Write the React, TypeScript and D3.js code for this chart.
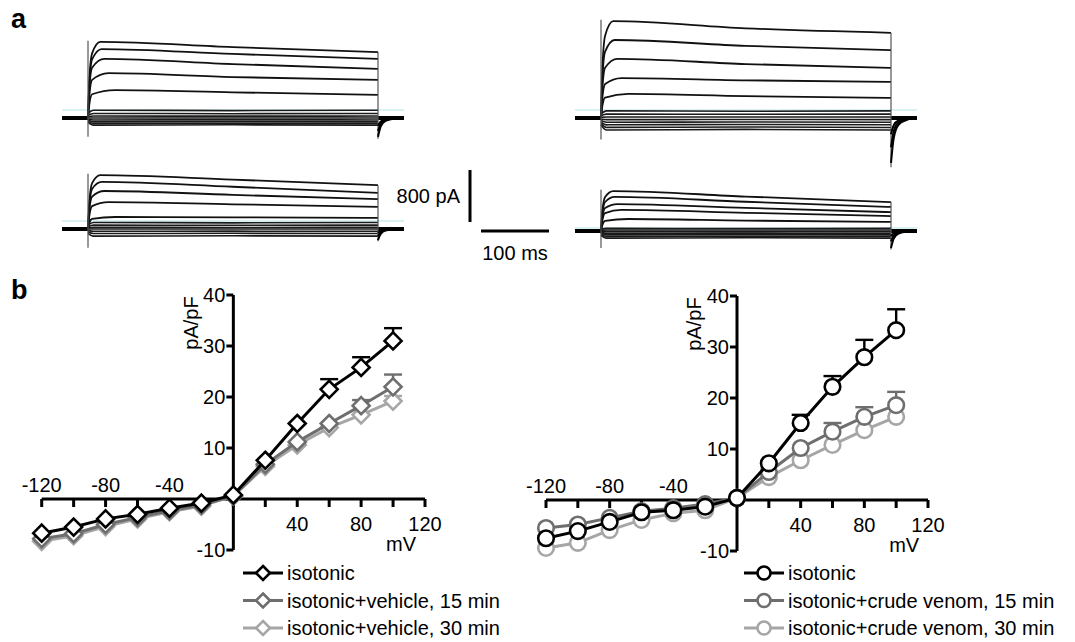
import React from "react";
import * as d3 from "d3";

// ---- panel b data (I-V curves, pA/pF) ----
const mV = [-120, -100, -80, -60, -40, -20, 0, 20, 40, 60, 80, 100];

const vehIso = [-6.7, -5.5, -3.9, -3.0, -1.8, -0.8, 0.8, 7.6, 14.8, 21.5, 25.8, 31.0];
const vehIsoErr = [0.4, 0.4, 0.4, 0.3, 0.3, 0.2, 0.2, 0.5, 0.9, 2.0, 2.0, 2.5];
const veh15 = [-7.8, -6.8, -5.0, -3.6, -2.3, -1.2, 0.6, 6.8, 11.2, 14.8, 18.3, 22.0];
const veh15Err = [0.4, 0.4, 0.3, 0.3, 0.3, 0.2, 0.2, 0.4, 0.6, 0.9, 1.1, 2.4];
const veh30 = [-8.3, -7.2, -5.4, -3.9, -2.5, -1.4, 0.6, 6.4, 10.6, 14.0, 16.5, 19.2];
const veh30Err = [0.3, 0.3, 0.3, 0.2, 0.2, 0.2, 0.2, 0.3, 0.5, 0.6, 0.8, 1.0];

const venIso = [-7.5, -6.1, -4.3, -2.4, -2.0, -1.3, 0.4, 7.2, 15.1, 22.2, 28.0, 33.3];
const venIsoErr = [0.4, 0.4, 0.3, 0.3, 0.3, 0.2, 0.2, 0.6, 1.6, 2.1, 3.4, 4.1];
const ven15 = [-5.5, -4.8, -3.5, -2.2, -1.6, -0.8, 0.4, 5.5, 10.2, 13.4, 16.3, 18.6];
const ven15Err = [0.4, 0.4, 0.3, 0.3, 0.2, 0.2, 0.2, 0.4, 0.6, 1.7, 1.9, 2.6];
const ven30 = [-9.4, -8.4, -5.9, -3.9, -2.6, -2.0, 0.4, 4.5, 7.8, 10.8, 13.7, 16.3];
const ven30Err = [0.3, 0.3, 0.3, 0.2, 0.2, 0.2, 0.2, 0.3, 0.4, 0.5, 0.6, 0.8];

const xTicks = [-120, -100, -80, -60, -40, -20, 0, 20, 40, 60, 80, 100, 120];
const xLabelsNeg = [-120, -80, -40];
const xLabelsPos = [40, 80, 120];
const yTicks = [-10, 0, 10, 20, 30, 40];
const yLabels = [-10, 10, 20, 30, 40];

const vehNames = ["isotonic", "isotonic+vehicle, 15 min", "isotonic+vehicle, 30 min"];
const venNames = ["isotonic", "isotonic+crude venom, 15 min", "isotonic+crude venom, 30 min"];
const seriesColors = ["#000000", "#6e6e6e", "#a6a6a6"];

// ---- panel a data (current traces, pA; step 0..425 ms) ----
const tlPeak = [1170, 1060, 910, 690, 430];
const tlMid = [1090, 985, 830, 630, 395];
const tlEnd = [1015, 910, 755, 585, 355];
const tlSub = [120, 70, 30, 0, -30, -60, -85, -110];
const tlTail = [-290, -200, -120];

const trPeak = [1490, 1200, 910, 615, 370];
const trMid = [1380, 1110, 830, 580, 335];
const trEnd = [1310, 1045, 770, 555, 310];
const trSub = [110, 60, 15, -25, -65, -105, -145, -185];
const trTail = [-690, -450, -250];

const blPeak = [830, 725, 585, 415, 185];
const blMid = [760, 650, 525, 380, 180];
const blEnd = [675, 555, 460, 340, 170];
const blSub = [100, 60, 25, 0, -35, -70, -110];
const blTail = [-170, -110, -60];

const brPeak = [615, 525, 415, 325, 185];
const brMid = [530, 450, 355, 280, 160];
const brEnd = [445, 370, 290, 230, 140];
const brSub = [40, 15, -10, -35, -60, -85, -110];
const brTail = [-260, -160, -80];

const riseMs = [18, 20, 24, 30, 40];

const FONT = "Arial, 'Liberation Sans', Helvetica, sans-serif";

type Group = {
  left: number;
  base: number;
  peak: number[];
  mid: number[];
  end: number[];
  sub: number[];
  tail: number[];
  cyan: number;
  onsetLow: number;
};

const groups: Group[] = [
  { left: 62, base: 118, peak: tlPeak, mid: tlMid, end: tlEnd, sub: tlSub, tail: tlTail, cyan: 123, onsetLow: -290 },
  { left: 575, base: 118, peak: trPeak, mid: trMid, end: trEnd, sub: trSub, tail: trTail, cyan: 123, onsetLow: -330 },
  { left: 62, base: 229, peak: blPeak, mid: blMid, end: blEnd, sub: blSub, tail: blTail, cyan: 123, onsetLow: -290 },
  { left: 575, base: 231, peak: brPeak, mid: brMid, end: brEnd, sub: brSub, tail: brTail, cyan: 46, onsetLow: -260 },
];

function Traces({ g }: { g: Group }) {
  const x = d3.scaleLinear().domain([-38, 0, 425, 463]).range([g.left, g.left + 26, g.left + 316, g.left + 342]);
  const y = d3.scaleLinear().domain([0, 800]).range([g.base, g.base - 52]);
  const line = d3
    .line<[number, number]>()
    .x((d) => x(d[0]))
    .y((d) => y(d[1]))
    .curve(d3.curveMonotoneX);
  const top = g.peak[0];
  return (
    <g fill="none" stroke="#111">
      <line x1={x(-38)} x2={x(463)} y1={y(g.cyan)} y2={y(g.cyan)} stroke="#b5e3ea" strokeWidth={1.2} />
      {g.sub.map((v, i) => (
        <path
          key={"s" + i}
          d={line([[0, v * 0.6], [8, v], [212, v * 0.95], [425, v]])!}
          strokeWidth={1.6}
          stroke="#1a1a1a"
        />
      ))}
      {g.peak.map((p, i) => (
        <path
          key={"t" + i}
          d={line([[0, 0], [2, p * 0.5], [6, p * 0.85], [riseMs[i], p], [212, g.mid[i]], [425, g.end[i]]])!}
          strokeWidth={1.8}
        />
      ))}
      <line x1={x(-38)} x2={x(0)} y1={y(0)} y2={y(0)} strokeWidth={4} stroke="#000" />
      <line x1={x(425)} x2={x(463)} y1={y(0)} y2={y(0)} strokeWidth={4} stroke="#000" />
      <line x1={x(0)} x2={x(0)} y1={y(top + 20)} y2={y(g.onsetLow)} strokeWidth={1.2} stroke="#555" />
      <line x1={x(425)} x2={x(425)} y1={y(g.end[0])} y2={y(g.tail[0] * 1.1)} strokeWidth={1.2} stroke="#555" />
      {g.tail.map((t, i) => (
        <path key={"k" + i} d={line([[425, t], [429, t * 0.45], [436, t * 0.15], [450, t * 0.03], [463, 0]])!} strokeWidth={2} stroke="#000" />
      ))}
    </g>
  );
}

type Panel = {
  x0: number;
  x1: number;
  yTop: number;
  yBot: number;
  names: string[];
  values: number[][];
  errs: number[][];
  marker: "diamond" | "circle";
  legendX: number;
};

const panels: Panel[] = [
  {
    x0: 41.7, x1: 425, yTop: 295, yBot: 550, names: vehNames,
    values: [vehIso, veh15, veh30], errs: [vehIsoErr, veh15Err, veh30Err], marker: "diamond", legendX: 243,
  },
  {
    x0: 546, x1: 928, yTop: 296, yBot: 551, names: venNames,
    values: [venIso, ven15, ven30], errs: [venIsoErr, ven15Err, ven30Err], marker: "circle", legendX: 744,
  },
];

function Marker({ type, cx, cy, r, color }: { type: string; cx: number; cy: number; r: number; color: string }) {
  if (type === "circle") {
    return <circle cx={cx} cy={cy} r={r} fill="#fff" stroke={color} strokeWidth={2.6} />;
  }
  const d = `M${cx},${cy - r}L${cx + r},${cy}L${cx},${cy + r}L${cx - r},${cy}Z`;
  return <path d={d} fill="#fff" stroke={color} strokeWidth={2.6} strokeLinejoin="miter" />;
}

function IVPanel({ p }: { p: Panel }) {
  const x = d3.scaleLinear().domain([-120, 120]).range([p.x0, p.x1]);
  const y = d3.scaleLinear().domain([-10, 40]).range([p.yBot, p.yTop]);
  const x0 = x(0);
  const y0 = y(0);
  const line = d3
    .line<number>()
    .x((_, i) => x(mV[i]))
    .y((d) => y(d));
  const order = [2, 1, 0];
  const mr = p.marker === "circle" ? 7.8 : 8.5;
  return (
    <g fontFamily={FONT} fontSize={20}>
      {/* axes */}
      <line x1={x(-120)} x2={x(120)} y1={y0} y2={y0} stroke="#000" strokeWidth={3} />
      <line x1={x0} x2={x0} y1={y(-10)} y2={y(40)} stroke="#000" strokeWidth={3} />
      {xTicks.map((t) => (
        <line key={"xt" + t} x1={x(t)} x2={x(t)} y1={y0} y2={y0 + 8} stroke="#000" strokeWidth={3} />
      ))}
      {yTicks.map((t) => (
        <line key={"yt" + t} x1={x0 - 7} x2={x0} y1={y(t)} y2={y(t)} stroke="#000" strokeWidth={3} />
      ))}
      {xLabelsNeg.map((t) => (
        <text key={"xn" + t} x={x(t)} y={y0 - 7} textAnchor="middle">{t}</text>
      ))}
      {xLabelsPos.map((t) => (
        <text key={"xp" + t} x={x(t)} y={y0 + 32} textAnchor="middle">{t}</text>
      ))}
      {yLabels.map((t) => (
        <text key={"yl" + t} x={x0 - 8} y={y(t)} dy="0.36em" textAnchor="end">{t}</text>
      ))}
      <text transform={`translate(${x0 - 43},${y(34.5)}) rotate(-90)`} textAnchor="middle" dy="0.36em">pA/pF</text>
      <text x={x(105)} y={y(-10) + 1} textAnchor="middle">mV</text>
      {/* series */}
      {order.map((s) => (
        <g key={"ser" + s}>
          <path d={line(p.values[s])!} fill="none" stroke={seriesColors[s]} strokeWidth={3} />
          {p.values[s].map((v, i) =>
            p.errs[s][i] > 0.9 ? (
              <g key={"e" + i} stroke={seriesColors[s]} strokeWidth={2.4}>
                <line x1={x(mV[i])} x2={x(mV[i])} y1={y(v)} y2={y(v + p.errs[s][i])} />
                <line x1={x(mV[i]) - 9} x2={x(mV[i]) + 9} y1={y(v + p.errs[s][i])} y2={y(v + p.errs[s][i])} />
              </g>
            ) : null
          )}
          {p.values[s].map((v, i) => (
            <Marker key={"m" + i} type={p.marker} cx={x(mV[i])} cy={y(v)} r={mr} color={seriesColors[s]} />
          ))}
        </g>
      ))}
      {/* legend */}
      {p.names.map((n, i) => {
        const ly = 573 + i * 27.5;
        return (
          <g key={"lg" + i}>
            <line x1={p.legendX} x2={p.legendX + 40} y1={ly} y2={ly} stroke={seriesColors[i]} strokeWidth={3} />
            <Marker type={p.marker} cx={p.legendX + 20} cy={ly} r={p.marker === "circle" ? 6.5 : 7} color={seriesColors[i]} />
            <text x={p.legendX + 44} y={ly} dy="0.36em" fill="#000">{n}</text>
          </g>
        );
      })}
    </g>
  );
}

export default function App() {
  return (
    <svg
      width={1075}
      height={642}
      style={{ position: "absolute", left: 0, top: 0, background: "#fff" }}
      fontFamily={FONT}
    >
      <rect width={1075} height={642} fill="#fff" />
      <text x={11} y={28} fontSize={27} fontWeight="bold">a</text>
      <text x={11} y={299} fontSize={27} fontWeight="bold">b</text>
      {groups.map((g, i) => (
        <Traces key={i} g={g} />
      ))}
      {/* scale bars */}
      <line x1={470} x2={470} y1={170} y2={222} stroke="#000" strokeWidth={3} />
      <text x={460} y={196} dy="0.36em" textAnchor="end" fontSize={20}>800 pA</text>
      <line x1={481} x2={549} y1={231} y2={231} stroke="#000" strokeWidth={3} />
      <text x={515} y={260} textAnchor="middle" fontSize={20}>100 ms</text>
      {panels.map((p, i) => (
        <IVPanel key={i} p={p} />
      ))}
    </svg>
  );
}
